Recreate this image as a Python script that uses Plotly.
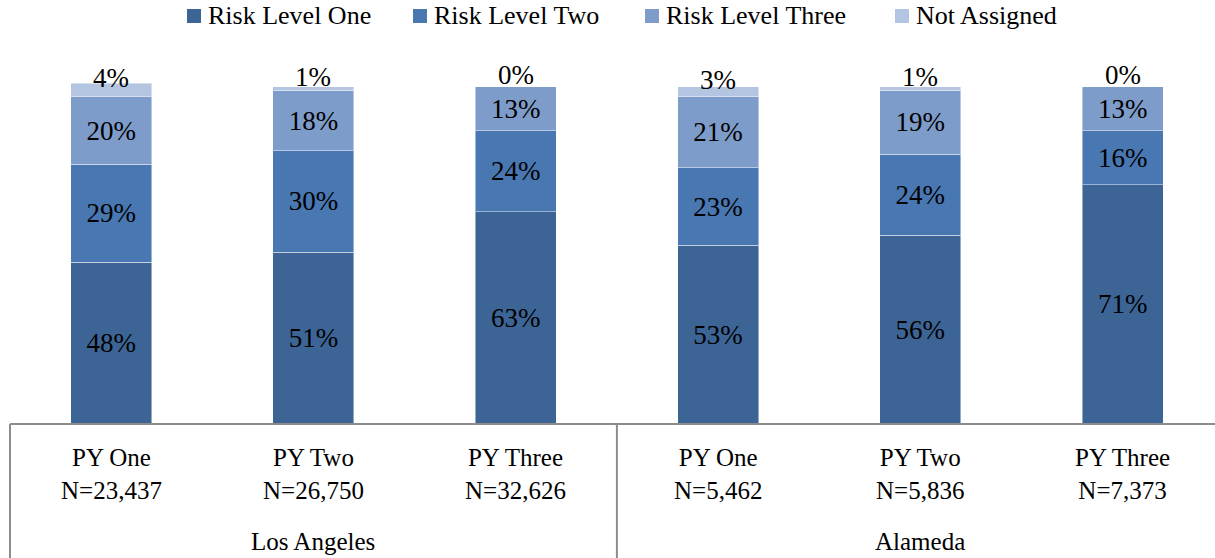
import plotly.graph_objects as go

# Data
periods = ["PY One", "PY Two", "PY Three", "PY One", "PY Two", "PY Three"]
counts = ["N=23,437", "N=26,750", "N=32,626", "N=5,462", "N=5,836", "N=7,373"]
counties = ["Los Angeles", "Alameda"]
series_names = ["Risk Level One", "Risk Level Two", "Risk Level Three", "Not Assigned"]
risk_one = [48, 51, 63, 53, 56, 71]
risk_two = [29, 30, 24, 23, 24, 16]
risk_three = [20, 18, 13, 21, 19, 13]
not_assigned = [4, 1, 0, 3, 1, 0]

colors = ["#3C6596", "#4877B2", "#7E9CCA", "#B4C5E1"]
series_values = [risk_one, risk_two, risk_three, not_assigned]

FONT = "Liberation Serif"
W, H = 1215, 558
M_L, M_R, M_T, M_B = 10, 0, 70, 134
PW, PH = W - M_L - M_R, H - M_T - M_B
CAT_PX = 202.3
X_MIN = -0.5
X_MAX = X_MIN + PW / CAT_PX
Y_MAX = 105


def px_x(px):
    return (px - M_L) / PW


def px_y(py):
    return (H - M_B - py) / PH


x = list(range(len(periods)))
fig = go.Figure()

for idx, (name, vals, col) in enumerate(zip(series_names, series_values, colors)):
    inside = idx < 3
    fig.add_trace(go.Bar(
        x=x, y=vals, name=name,
        marker=dict(color=col, line=dict(color="rgba(255,255,255,0.45)", width=1)),
        width=0.4,
        text=[f"{v}%" for v in vals] if inside else None,
        textposition="inside" if inside else "none",
        insidetextanchor="middle",
        constraintext="none",
        textfont=dict(family=FONT, size=27, color="#000000"),
        showlegend=False,
        hoverinfo="skip",
    ))

annotations = []

# Labels for the thin top segment, set just above it
base = [a + b + c for a, b, c in zip(risk_one, risk_two, risk_three)]
for i, (b, v) in enumerate(zip(base, not_assigned)):
    annotations.append(dict(
        x=i, y=b + v / 2, xref="x", yref="y", text=f"{v}%",
        showarrow=False, yshift=12, yanchor="middle",
        font=dict(family=FONT, size=27, color="#000000"),
    ))

# Category labels (period + sample size)
for i, (p, n) in enumerate(zip(periods, counts)):
    annotations.append(dict(
        x=i, y=0, xref="x", yref="paper", text=f"{p}<br>{n}",
        showarrow=False, yanchor="middle", yshift=-50,
        font=dict(family=FONT, size=25, color="#000000"),
    ))

# County group labels
for g, county in enumerate(counties):
    annotations.append(dict(
        x=g * 3 + 1, y=0, xref="x", yref="paper", text=county,
        showarrow=False, yanchor="middle", yshift=-117,
        font=dict(family=FONT, size=25, color="#000000"),
    ))

# Legend drawn as swatches with text
legend_marker_px = [187, 413, 645, 895]
shapes = []
for name, col, mx in zip(series_names, colors, legend_marker_px):
    shapes.append(dict(
        type="rect", xref="paper", yref="paper",
        x0=px_x(mx), x1=px_x(mx + 14), y0=px_y(23), y1=px_y(9),
        fillcolor=col, line=dict(width=0),
    ))
    annotations.append(dict(
        x=px_x(mx + 19), y=px_y(16), xref="paper", yref="paper",
        text=name, showarrow=False, xanchor="left", yanchor="middle",
        font=dict(family=FONT, size=26, color="#000000"),
    ))

# Axis frame: baseline and group dividers
axis_col = "#8C8C8C"
shapes.append(dict(type="line", xref="paper", yref="paper", x0=0, x1=1, y0=0, y1=0,
                   line=dict(color=axis_col, width=2)))
for xb in [X_MIN, X_MIN + 3]:
    xp = (xb - X_MIN) / (X_MAX - X_MIN)
    shapes.append(dict(type="line", xref="paper", yref="paper", x0=xp, x1=xp,
                       y0=0, y1=px_y(H + 5), line=dict(color=axis_col, width=2)))

fig.update_layout(
    barmode="stack",
    width=W, height=H,
    margin=dict(l=M_L, r=M_R, t=M_T, b=M_B),
    paper_bgcolor="white", plot_bgcolor="white",
    xaxis=dict(range=[X_MIN, X_MAX], showticklabels=False, showgrid=False,
               zeroline=False, showline=False, fixedrange=True),
    yaxis=dict(range=[0, Y_MAX], visible=False, showgrid=False, fixedrange=True),
    shapes=shapes,
    annotations=annotations,
    showlegend=False,
)

fig.write_html("out.html")
